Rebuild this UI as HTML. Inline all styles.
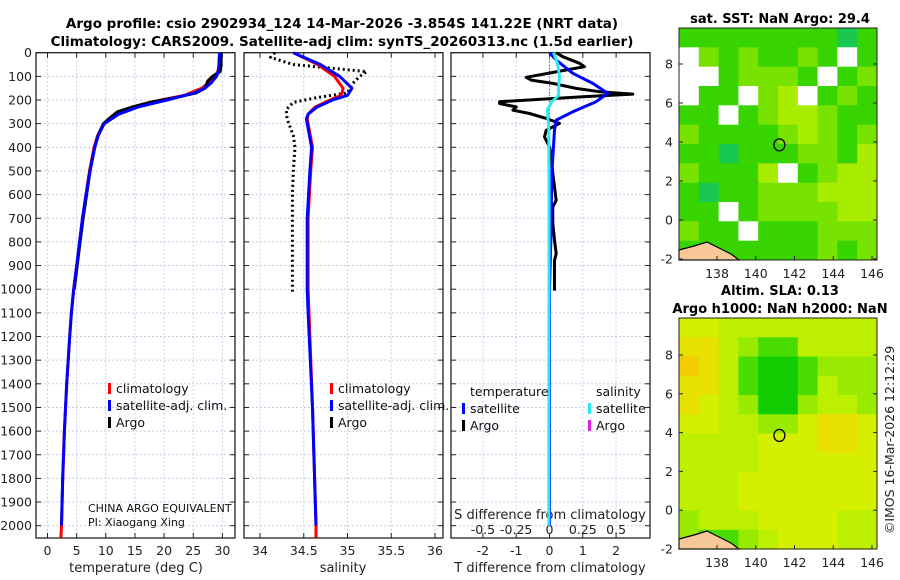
<!DOCTYPE html>
<html><head><meta charset="utf-8"><style>
body{margin:0;background:#fff;}
svg{display:block;font-family:"DejaVu Sans","Liberation Sans",sans-serif;}
</style></head><body>
<svg id="c" width="900" height="580" viewBox="0 0 900 580">
<text x="342" y="28" text-anchor="middle" font-weight="bold" font-size="13.5">Argo profile: csio 2902934_124 14-Mar-2026 -3.854S 141.22E (NRT data)</text>
<text x="342" y="46" text-anchor="middle" font-weight="bold" font-size="13.5">Climatology: CARS2009. Satellite-adj clim: synTS_20260313.nc (1.5d earlier)</text>
<text x="780" y="23" text-anchor="middle" font-weight="bold" font-size="13">sat. SST: NaN Argo: 29.4</text>
<text x="780" y="295" text-anchor="middle" font-weight="bold" font-size="13">Altim. SLA: 0.13</text>
<text x="780" y="313" text-anchor="middle" font-weight="bold" font-size="13">Argo h1000: NaN h2000: NaN</text>
<text transform="translate(894,440) rotate(-90)" text-anchor="middle" font-size="12.5" fill="#222">©IMOS 16-Mar-2026 12:12:29</text>
<g id="g"></g>
</svg>
<script>
// ---- data ----
const depthTicks=[0,100,200,300,400,500,600,700,800,900,1000,1100,1200,1300,1400,1500,1600,1700,1800,1900,2000];
const tempTicks=[0,5,10,15,20,25,30];
const salTicks=[34,34.5,35,35.5,36];
const salTickLabels=["34","34.5","35","35.5","36"];
const tdiffTicks=[-2,-1,0,1,2];
const sdiffTicks=[-0.5,-0.25,0,0.25,0.5];
const sdiffLabels=["-0.5","-0.25","0","0.25","0.5"];

const climTDepth=[0,50,80,100,130,150,180,200,230,260,300,350,400,500,600,700,800,900,1000,1100,1200,1400,1600,1800,2000,2050];
const climTVal=[29.6,29.5,29.2,28.8,27.5,26.5,23.5,19.5,15,12,9.6,8.6,8.0,7.2,6.6,6.0,5.5,5.0,4.5,4.1,3.8,3.3,2.9,2.6,2.4,2.3];
const satTDepth=[0,50,80,100,130,150,170,200,230,260,300,350,400,500,600,700,800,900,1000,1100,1200,1400,1600,1800,2000];
const satTVal=[29.5,29.4,29.3,29.0,28.0,27.0,25.2,20.5,15.5,12.2,9.7,8.7,8.1,7.3,6.6,6.0,5.5,5.0,4.5,4.1,3.8,3.3,2.9,2.6,2.4];
const argoTDepth=[0,50,80,100,120,150,170,190,210,230,250,280,300,350,400,500,600,700,800,900,1000];
const argoTVal=[29.7,29.8,29.6,28.3,27.5,27.0,25.5,22,17.5,14.5,12,10.5,9.6,8.7,8.1,7.3,6.7,6.1,5.6,5.1,4.6];

const climSDepth=[0,50,100,150,180,200,230,260,280,400,500,700,1000,1100,1500,2000,2050];
const climSVal=[34.38,34.66,34.85,34.95,34.93,34.8,34.63,34.55,34.54,34.6,34.58,34.55,34.55,34.56,34.6,34.64,34.64];
const satSDepth=[0,50,100,150,180,200,230,260,280,400,500,700,1000,1100,1500,2000];
const satSVal=[34.38,34.69,34.91,35.05,35.0,34.83,34.65,34.55,34.53,34.59,34.57,34.54,34.54,34.55,34.6,34.64];
const argoSDepth=[0,20,50,80,100,130,170,190,210,240,280,350,400,500,600,800,1010];
const argoSVal=[34.17,34.12,34.38,35.22,35.14,35.06,35.0,34.65,34.38,34.3,34.31,34.38,34.4,34.38,34.37,34.37,34.37];

const satTdDepth=[0,31,87,130,172,207,250,285,327,511,794,1000,2000];
const satTdVal=[0,0.2,0.7,1.3,1.75,1.4,0.7,0.2,0.15,0.07,0.04,0,0];
const satSdDepth=[0,45,100,150,180,207,240,280,320,600,2000];
const satSdVal=[0.03,0.06,0.075,0.068,0.068,0.018,-0.015,-0.012,-0.005,-0.003,-0.005];
const argoTdDepth=[0,17,45,59,73,104,116,130,151,165,175,186,207,215,229,243,257,278,299,328,356,398,441,511,624,652,723,793,850,878,935,1006];
const argoTdVal=[0.2,0.4,0.9,1.05,0.5,-0.7,-0.55,0.1,0.8,1.5,2.5,1.0,-1.5,-1.5,-1.0,-1.1,-0.6,-0.1,0.3,-0.1,-0.15,0,0.05,0.1,0.2,0.1,0.1,0.15,0.2,0.15,0.15,0.15];

const lonTicks=[138,140,142,144,146];
const latTicks=[-2,0,2,4,6,8];
const sstGrid=[
[2,2,2,2,2,2,2,2,1,2],[0,3,2,3,2,2,3,2,0,2],[0,0,2,3,3,3,2,0,2,3],[0,2,2,0,3,4,0,2,3,2],
[2,2,0,2,3,4,4,3,2,2],[3,2,2,2,2,3,4,3,2,3],[2,2,1,2,2,2,3,3,2,4],[3,2,2,2,4,0,2,3,4,4],
[2,1,2,2,3,3,3,4,4,4],[2,2,0,2,3,3,3,3,4,4],[3,2,2,0,2,2,2,3,3,3],[2,2,2,2,2,2,2,3,2,3]];
const slaGrid=[
[5,5,4,4,4,4,4,4,4,4],[6,6,4,3,2,2,4,4,4,4],[7,6,4,2,1,1,2,3,3,3],[6,6,4,2,1,1,2,4,3,3],
[6,5,4,3,1,1,3,4,4,3],[5,5,4,4,3,3,5,6,6,5],[4,4,4,4,5,5,5,6,6,5],[4,4,4,4,5,5,5,5,5,5],
[4,4,4,5,5,5,5,5,5,5],[4,4,4,5,5,5,5,5,5,5],[3,4,4,4,5,5,5,5,4,4],[3,2,2,3,4,5,5,5,4,4]];
const floatLon=141.22, floatLat=3.854;

// ---- drawing ----
const NS="http://www.w3.org/2000/svg";
const G=document.getElementById('g');
function el(tag,attrs,parent,txt){const e=document.createElementNS(NS,tag);for(const k in attrs)e.setAttribute(k,attrs[k]);if(txt!==undefined)e.textContent=txt;(parent||G).appendChild(e);return e;}
const top0=52.7, pxPer100=23.65, bottom=538;
const yD=d=>top0+d*pxPer100/100;
const panels=[
 {x0:36,x1:235,sx:v=>47.5+v*5.83,name:'temperature'},
 {x0:244,x1:443,sx:v=>260+(v-34)*87.5,name:'salinity'},
 {x0:451,x1:650,sx:v=>549.5+v*33.3,name:'difference'}];
panels.forEach((p,i)=>{
  const ticksX= i==0?tempTicks:(i==1?salTicks:tdiffTicks);
  const grid=el('g',{},G);
  
  
  depthTicks.forEach(d=>{el('line',{x1:p.x0,x2:p.x1,y1:yD(d),y2:yD(d),stroke:'#c8cce8','stroke-dasharray':'2,2','stroke-width':1},grid);
    el('line',{x1:p.x0,x2:p.x0+5,y1:yD(d),y2:yD(d),stroke:'#222'},grid);el('line',{x1:p.x1-5,x2:p.x1,y1:yD(d),y2:yD(d),stroke:'#222'},grid);});
  ticksX.forEach(v=>{const x=p.sx(v);el('line',{x1:x,x2:x,y1:top0,y2:bottom,stroke:'#c8cce8','stroke-dasharray':'2,2'},grid);
    el('line',{x1:x,x2:x,y1:bottom-5,y2:bottom,stroke:'#222'},grid);el('line',{x1:x,x2:x,y1:top0,y2:top0+5,stroke:'#222'},grid);});
  const fr=el('rect',{x:p.x0,y:top0,width:p.x1-p.x0,height:bottom-top0,fill:'none',stroke:'#222','stroke-width':1.3});
  
  
});
depthTicks.forEach(d=>{const t=el('text',{x:32,y:yD(d)+4.5,'text-anchor':'end','font-size':12.5,fill:'#222'},G,String(d));
  
  });
tempTicks.forEach(v=>{const t=el('text',{x:panels[0].sx(v),y:555,'text-anchor':'middle','font-size':12.5,fill:'#222'},G,String(v));
  
  });
salTicks.forEach((v,i)=>{const t=el('text',{x:panels[1].sx(v),y:555,'text-anchor':'middle','font-size':12.5,fill:'#222'},G,salTickLabels[i]);
  
  });
tdiffTicks.forEach(v=>{const t=el('text',{x:panels[2].sx(v),y:555,'text-anchor':'middle','font-size':12.5,fill:'#222'},G,String(v));
  
  });
sdiffTicks.forEach((v,i)=>{const t=el('text',{x:panels[2].sx(v*4),y:534,'text-anchor':'middle','font-size':12.5,fill:'#222'},G,sdiffLabels[i]);
  
  });
[['temperature (deg C)',136,'x-axis-title-temperature'],['salinity',343,'x-axis-title-salinity'],['T difference from climatology',550,'x-axis-title-tdiff']].forEach(a=>{
  const t=el('text',{x:a[1],y:572,'text-anchor':'middle','font-size':13,fill:'#222'},G,a[0]);
  
  });
const st=el('text',{x:550,y:519,'text-anchor':'middle','font-size':13,fill:'#222'},G,'S difference from climatology');


const zl=el('line',{x1:panels[2].sx(0),x2:panels[2].sx(0),y1:top0,y2:yD(300),stroke:'#444','stroke-dasharray':'1,2'});



function line(p,ds,vs,color,w,name,dash,scale){
  const pts=ds.map((d,i)=>p.sx(vs[i]*(scale||1)).toFixed(1)+','+yD(d).toFixed(1)).join(' ');
  const e=el('polyline',{points:pts,fill:'none',stroke:color,'stroke-width':w,'stroke-linejoin':'round'});
  if(dash)e.setAttribute('stroke-dasharray',dash);
  
  
}
line(panels[0],climTDepth,climTVal,'#f00',3,'temperature-climatology-line');
line(panels[0],argoTDepth,argoTVal,'#000',3,'temperature-argo-line');
line(panels[0],satTDepth,satTVal,'#00f',3,'temperature-satellite-line');
line(panels[1],argoSDepth,argoSVal,'#000',3,'salinity-argo-line','2,3');
line(panels[1],climSDepth,climSVal,'#f00',3,'salinity-climatology-line');
line(panels[1],satSDepth,satSVal,'#00f',3,'salinity-satellite-line');
line(panels[2],argoTdDepth,argoTdVal,'#000',3,'tdiff-argo-line');
line(panels[2],satTdDepth,satTdVal,'#00f',3,'tdiff-satellite-line');
line(panels[2],satSdDepth,satSdVal,'#2ee8f0',3,'sdiff-satellite-line',null,4);

function leg(x,y,color,label,name){
  const g=el('g',{},G);
  
  
  el('rect',{x:x,y:y-9,width:3,height:11,fill:color},g);
  el('text',{x:x+8,y:y+1,'font-size':12.5,fill:'#111'},g,label);
}
leg(108,392,'#f00','climatology','legend-climatology');
leg(108,409,'#00f','satellite-adj. clim.','legend-satellite-adj-clim');
leg(108,426,'#000','Argo','legend-argo');
leg(330,392,'#f00','climatology','legend-salinity-climatology');
leg(330,409,'#00f','satellite-adj. clim.','legend-salinity-satellite');
leg(330,426,'#000','Argo','legend-salinity-argo');
const lt=el('text',{x:470,y:396,'font-size':12.5,fill:'#111'},G,'temperature');


const ls=el('text',{x:596,y:396,'font-size':12.5,fill:'#111'},G,'salinity');


leg(462,412,'#00f','satellite','legend-tdiff-satellite');
leg(462,429,'#000','Argo','legend-tdiff-argo');
leg(588,412,'#2ee8f0','satellite','legend-sdiff-satellite');
leg(588,429,'#e020e0','Argo','legend-sdiff-argo');
const c1=el('text',{x:88,y:512,'font-size':11,fill:'#111'},G,'CHINA ARGO EQUIVALENT');


const c2=el('text',{x:88,y:526,'font-size':11,fill:'#111'},G,'PI: Xiaogang Xing');



const sstColors=['#ffffff','#18c850','#38d400','#78e200','#a8ec00','#c8f000'];
const slaColors=['#fff','#10cc00','#48dc00','#98ea00','#bcf000','#d4f000','#e8e000','#f0cc00'];
function map(y0,y1,lat8y,latm2y,grid,colors,name){
  const x0=679,x1=877;
  const lx=lon=>717+(lon-138)*(872-717)/8;
  const ly=lat=>latm2y+(lat+2)*(lat8y-latm2y)/10;
  const g=el('g',{},G);
  
  
  const rows=grid.length, cols=grid[0].length;
  const cw=(x1-x0)/cols, ch=(y1-y0)/rows;
  grid.forEach((r,i)=>r.forEach((v,j)=>{
    const c=el('rect',{x:(x0+j*cw).toFixed(1),y:(y0+i*ch).toFixed(1),width:(cw+0.5).toFixed(1),height:(ch+0.5).toFixed(1),fill:colors[v]},g);
    
    
  }));
  const land=el('path',{d:`M${x0},${y1} L${x0},${y1-10} L${x0+15},${y1-14} L${x0+28},${y1-18} L${x0+40},${y1-12} L${x0+52},${y1-6} L${x0+60},${y1} Z`,fill:'#f8c898',stroke:'#000','stroke-width':1.2},g);
  
  
  el('rect',{x:x0,y:y0,width:x1-x0,height:y1-y0,fill:'none',stroke:'#222','stroke-width':1},g);
  latTicks.forEach(v=>{const y=ly(v);
    el('line',{x1:x0,x2:x0+4,y1:y,y2:y,stroke:'#222'},g);el('line',{x1:x1-4,x2:x1,y1:y,y2:y,stroke:'#222'},g);
    el('text',{x:673,y:y+4.5,'text-anchor':'end','font-size':12.5,fill:'#222'},g,String(v));});
  lonTicks.forEach(v=>{const x=lx(v);
    el('line',{x1:x,x2:x,y1:y1-4,y2:y1,stroke:'#222'},g);
    el('text',{x:x,y:y1+18,'text-anchor':'middle','font-size':12.5,fill:'#222'},g,String(v));});
  const m=el('ellipse',{cx:lx(floatLon),cy:ly(floatLat),rx:5.5,ry:6,fill:'none',stroke:'#000','stroke-width':1.3},g);
  
  
}
map(28,260,64,259,sstGrid,sstColors,'sst-map');
map(318,549,355,549,slaGrid,slaColors,'sla-map');
</script>
</body></html>
